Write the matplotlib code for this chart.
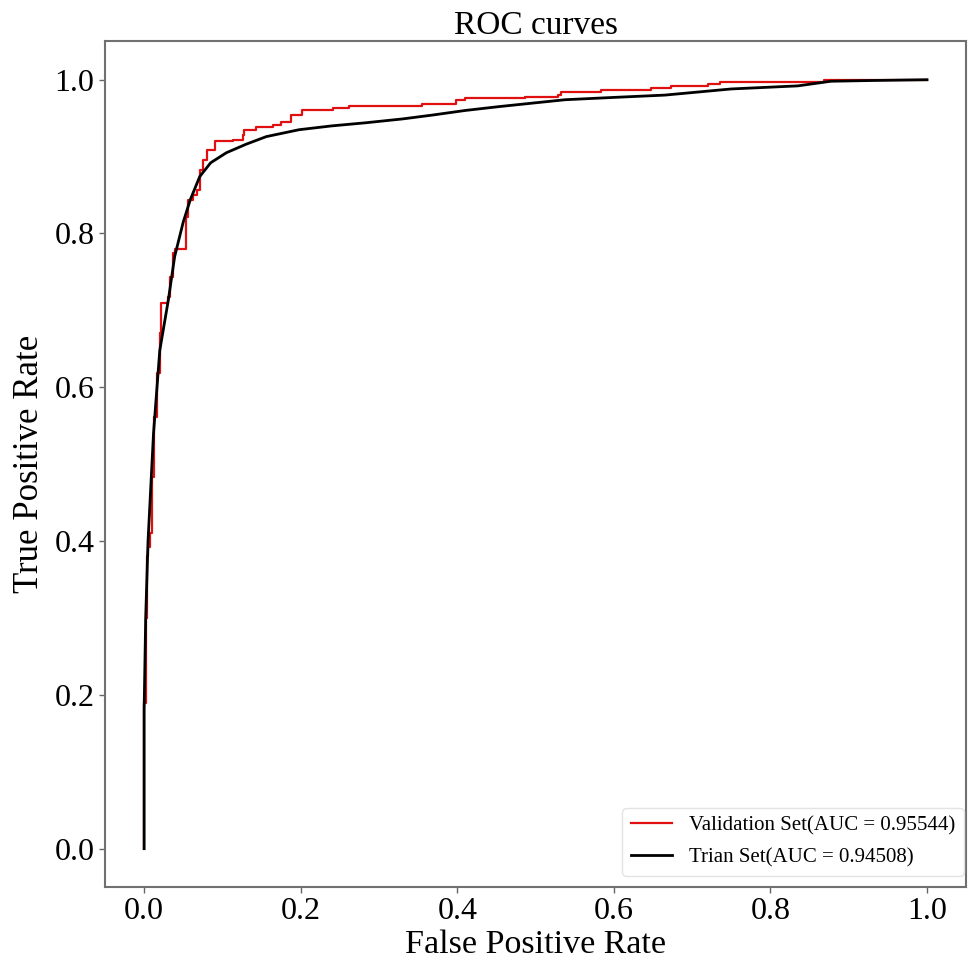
import matplotlib.pyplot as plt

plt.rcParams['font.family'] = ['Liberation Serif', 'DejaVu Serif']

# Validation set ROC (stepwise)
val_fpr = [0.0, 0.0, 0.002, 0.004, 0.005, 0.008, 0.010, 0.012, 0.016, 0.020,
           0.022, 0.031, 0.033, 0.037, 0.039, 0.053, 0.054, 0.056, 0.062, 0.067,
           0.071, 0.075, 0.080, 0.090, 0.113, 0.126, 0.128, 0.143, 0.164, 0.175,
           0.188, 0.202, 0.241, 0.262, 0.351, 0.355, 0.398, 0.410, 0.487, 0.529,
           0.533, 0.584, 0.648, 0.673, 0.720, 0.735, 0.864, 0.869, 1.0]
val_tpr = [0.0, 0.19, 0.30, 0.38, 0.392, 0.41, 0.483, 0.561, 0.618, 0.67,
           0.71, 0.717, 0.744, 0.775, 0.78, 0.78, 0.822, 0.844, 0.85, 0.857,
           0.883, 0.896, 0.909, 0.92, 0.922, 0.928, 0.935, 0.939, 0.941, 0.945,
           0.954, 0.961, 0.963, 0.966, 0.966, 0.969, 0.973, 0.976, 0.977, 0.980,
           0.984, 0.987, 0.989, 0.992, 0.995, 0.997, 0.997, 0.999, 1.0]

# Training set ROC
tr_fpr = [0.0, 0.0, 0.002, 0.005, 0.009, 0.012, 0.020, 0.031, 0.039, 0.050,
          0.059, 0.071, 0.085, 0.105, 0.130, 0.156, 0.198, 0.240, 0.283, 0.330,
          0.368, 0.410, 0.453, 0.500, 0.538, 0.600, 0.665, 0.750, 0.835, 0.877,
          0.930, 1.0]
tr_tpr = [0.0, 0.18, 0.30, 0.40, 0.48, 0.54, 0.648, 0.714, 0.77, 0.815,
          0.844, 0.874, 0.892, 0.905, 0.916, 0.926, 0.935, 0.940, 0.944, 0.949,
          0.954, 0.960, 0.965, 0.970, 0.974, 0.977, 0.980, 0.988, 0.992, 0.998,
          0.999, 1.0]

val_auc = 0.95544
tr_auc = 0.94508

fig = plt.figure(figsize=(9.72, 9.6), dpi=100)
ax = fig.add_axes([0.108, 0.076, 0.886, 0.881])

ax.plot(val_fpr, val_tpr, color='#e01010', linewidth=1.6, drawstyle='steps-post',
        label='Validation Set(AUC = %.5f)' % val_auc)
ax.plot(tr_fpr, tr_tpr, color='black', linewidth=2,
        label='Trian Set(AUC = %.5f)' % tr_auc)

ax.set_xlim(-0.05, 1.05)
ax.set_ylim(-0.05, 1.05)
ax.set_xticks([0.0, 0.2, 0.4, 0.6, 0.8, 1.0])
ax.set_yticks([0.0, 0.2, 0.4, 0.6, 0.8, 1.0])
ax.tick_params(labelsize=23, color='#666666', length=4, width=1)

for s in ax.spines.values():
    s.set_color('#707070')
    s.set_linewidth(1.5)

ax.set_title('ROC curves', fontsize=24, pad=4)
ax.set_xlabel('False Positive Rate', fontsize=24.5, labelpad=2)
ax.set_ylabel('True Positive Rate', fontsize=25, labelpad=6)

leg = ax.legend(loc='lower right', fontsize=15, bbox_to_anchor=(0.997, 0.013),
                borderaxespad=0, handlelength=2.0, labelspacing=0.6)
leg.get_frame().set_edgecolor('#dddddd')

fig.savefig('out.png', dpi=100)
